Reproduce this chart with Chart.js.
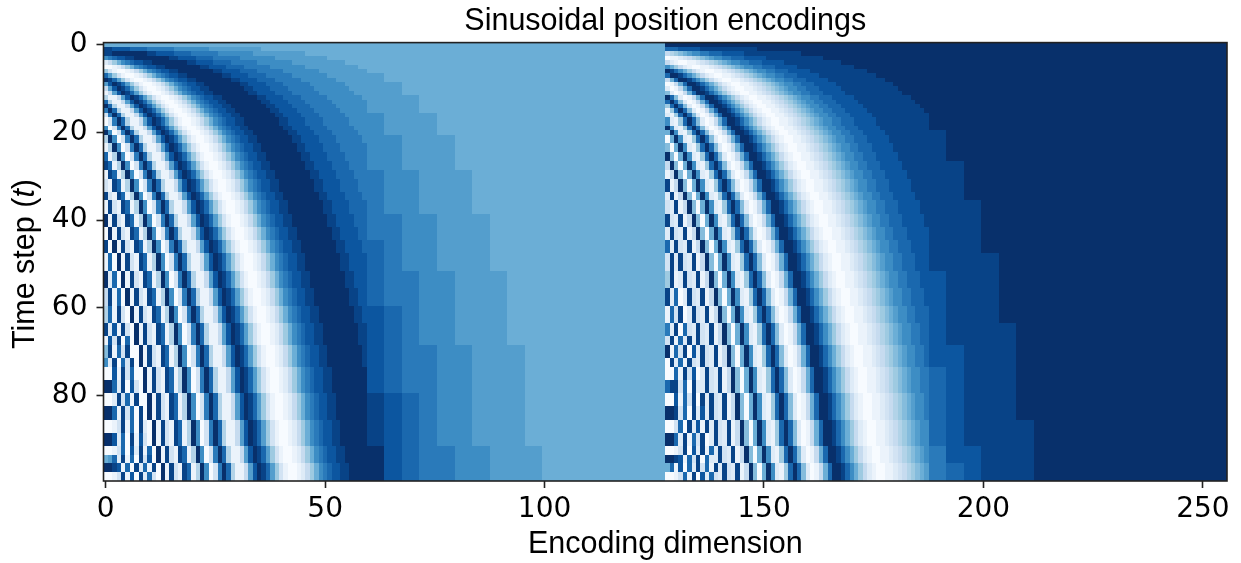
<!DOCTYPE html>
<html>
<head>
<meta charset="utf-8">
<style>
  html, body { margin: 0; padding: 0; background: #fff; }
  #wrap { width: 1241px; height: 563px; }
</style>
<script src="https://cdn.jsdelivr.net/npm/chart.js@4/dist/chart.umd.min.js"></script>
</head>
<body>
<div id="wrap"><canvas id="chart" width="1241" height="563"></canvas></div>
<script>
// shade for each cell, one hex digit: 0 = white, 8 = mid blue, f = navy
// first time step of each row of cells
const rowStarts = [0,1,2,3,4,5,6,7,8,9,10,11,12,13,14,15,16,17,19,20,21,23,25,27,29,31,34,36,39,42,45,48,52,56,60,64,67,69,72,74,77,80,83,86,89,92,94,96,98];
const rowEnd = 100;
// first dimension of each column of cells, same for both halves
const columnStarts = [0,1,2,3,4,5,6,7,8,9,10,11,12,13,14,15,16,17,18,19,20,21,22,23,24,25,26,27,28,29,30,31,32,33,34,35,36,37,38,39,40,41,42,43,44,45,46,47,48,49,50,51,52,53,54,55,56,57,58,59,60,64,68,72,76,80,84,88,92,96,100,108,116];
const halfWidth = 128;

const sineRows = [
  "8888888888 8888888888 8888888888 8888888888 8888888888 8888888888 8888888888888",
  "eeddddcc ccbbbbbbaa aaaaaa9999 9999999988 8888888888 8888888888 88 8888888888888",
  "eeffffff ffeeddddcc ccbbbbbbaa aaaaaa9999 9999999988 8888888888 88 8888888888888",
  "abc ddeeffffff ffeeddddcc ccbbbbbbaa aaaaaa9999 9999999988 8888888 8888888888888",
  "2468abc ddeeffffff ffeeddddcc ccbbbbbbaa aaaaaa9999 9999999988 888 8888888888888",
  "0012468abc ddeeffffff ffeeddddcc ccbbbbbbaa aaaaaa9999 9999999988 8888888888888",
  "631 0012468abc ddeeffffff ffeeddddcc ccbbbbbbaa aaaaaa9999 9999999 8888888888888",
  "c9631 0012468abc ddeeffffff ffeeddddcc ccbbbbbbaa aaaaaa9999 99999 9888888888888",
  "fec9631 0012468abc ddeeffffff ffeeddddcc ccbbbbbbaa aaaaaa9999 999 9888888888888",
  "9dfec9631 0012468abc ddeeffffff ffeeddddcc ccbbbbbbaa aaaaaa9999 9 9988888888888",
  "49dfec9631 0012468abc ddeeffffff ffeeddddcc ccbbbbbbaa aaaaaa9999 9988888888888",
  "1 49dfec9631 0012468abc ddeeffffff ffeeddddcc ccbbbbbbaa aaaaaa999 9988888888888",
  "511 49dfec9631 0012468abc ddeeffffff ffeeddddcc ccbbbbbbaa aaaaaa9 9998888888888",
  "c511 49dfec9631 0012468abc ddeeffffff ffeeddddcc ccbbbbbbaa aaaaaa 9998888888888",
  "fc511 49dfec9631 0012468abc ddeeffffff ffeeddddcc ccbbbbbbaa aaaaa 9998888888888",
  "bfc511 49dfec9631 0012468abc ddeeffffff ffeeddddcc ccbbbbbbaa aaaa 9998888888888",
  "3bfc511 49dfec9631 0012468abc ddeeffffff ffeeddddcc ccbbbbbbaa aaa a999888888888",
  "03bfc511 49dfec9631 0012468abc ddeeffffff ffeeddddcc ccbbbbbbaa aa a999888888888",
  "a03bfc511 49dfec9631 0012468abc ddeeffffff ffeeddddcc ccbbbbbbaa a a999888888888",
  "fa03bfc511 49dfec9631 0012468abc ddeeffffff ffeeddddcc ccbbbbbbaa a999888888888",
  "5 fa03bfc511 49dfec9631 0012468abc ddeeffffff ffeeddddcc ccbbbbbba aa99988888888",
  "15 fa03bfc511 49dfec9631 0012468abc ddeeffffff ffeeddddcc ccbbbbbb aa99988888888",
  "c15 fa03bfc511 49dfec9631 0012468abc ddeeffffff ffeeddddcc ccbbbbb aa99988888888",
  "ec15 fa03bfc511 49dfec9631 0012468abc ddeeffffff ffeeddddcc ccbbbb aa99988888888",
  "1ec15 fa03bfc511 49dfec9631 0012468abc ddeeffffff ffeeddddcc ccbbb baa9998888888",
  "31ec15 fa03bfc511 49dfec9631 0012468abc ddeeffffff ffeeddddcc ccbb baa9998888888",
  "e31ec15 fa03bfc511 49dfec9631 0012468abc ddeeffffff ffeeddddcc ccb baa9998888888",
  "1e31ec15 fa03bfc511 49dfec9631 0012468abc ddeeffffff ffeeddddcc cc baa9998888888",
  "f1e31ec15 fa03bfc511 49dfec9631 0012468abc ddeeffffff ffeeddddcc c bbaa999888888",
  "0f1e31ec15 fa03bfc511 49dfec9631 0012468abc ddeeffffff ffeeddddcc bbaa999888888",
  "e 0f1e31ec15 fa03bfc511 49dfec9631 0012468abc ddeeffffff ffeeddddc cbaa999888888",
  "1c 0f1e31ec15 fa03bfc511 49dfec9631 0012468abc ddeeffffff ffeedddd cbaa999888888",
  "f2c 0f1e31ec15 fa03bfc511 49dfec9631 0012468abc ddeeffffff ffeeddd cbbaa99988888",
  "4e1c 0f1e31ec15 fa03bfc511 49dfec9631 0012468abc ddeeffffff ffeedd cbbaa99988888",
  "5c1e3 0f1e31ec15 fa03bfc511 49dfec9631 0012468abc ddeeffffff ffeed dcbaa99988888",
  "e2d1e3 0f1e31ec15 fa03bfc511 49dfec9631 0012468abc ddeeffffff ffee dcbaa99988888",
  "1d3e0c 0f1e31ec15 fa03bfc511 49dfec9631 0012468abc ddeeffffff ffee dcbaa99988888",
  "7e1c3e0 0f1e31ec15 fa03bfc511 49dfec9631 0012468abc ddeeffffff ffe dcbbaa9998888",
  "a2e0c3e 0f1e31ec15 fa03bfc511 49dfec9631 0012468abc ddeeffffff ffe dcbbaa9998888",
  "00d1e3c0 0f1e31ec15 fa03bfc511 49dfec9631 0012468abc ddeeffffff ff dcbbaa9998888",
  "ffc2e0d3 0f1e31ec15 fa03bfc511 49dfec9631 0012468abc ddeeffffff ff dcbbaa9998888",
  "002e3c1e0 0f1e31ec15 fa03bfc511 49dfec9631 0012468abc ddeeffffff f edcbaa9998888",
  "ffc1e3c0e 0f1e31ec15 fa03bfc511 49dfec9631 0012468abc ddeeffffff f edcbaa9998888",
  "0013e1c0e2 0f1e31ec15 fa03bfc511 49dfec9631 0012468abc ddeeffffff edcbaa9998888",
  "ffd2c0e1d3 0f1e31ec15 fa03bfc511 49dfec9631 0012468abc ddeeffffff edcbaa9998888",
  "0013c0d2e1c 0f1e31ec15 fa03bfc511 49dfec9631 0012468abc ddeefffff fdcbbaa999888",
  "89c2e1c0e3d 0f1e31ec15 fa03bfc511 49dfec9631 0012468abc ddeefffff fdcbbaa999888",
  "ffed1c0e2c1e 0f1e31ec15 fa03bfc511 49dfec9631 0012468abc ddeeffff fdcbbaa999888",
  "0013e1d0e2c3 0f1e31ec15 fa03bfc511 49dfec9631 0012468abc ddeeffff fdcbbaa999888",
];

const cosineRows = [
  "ffffffffff ffffffffff ffffffffff ffffffffff ffffffffff ffffffffff fffffffffffff",
  "cccddddd eeeeeeeeee eeefffffff ffffffffff ffffffffff ffffffffff ff fffffffffffff",
  "456789aa bbcccddddd eeeeeeeeee eeefffffff ffffffffff ffffffffff ff fffffffffffff",
  "011 23456789aa bbcccddddd eeeeeeeeee eeefffffff ffffffffff fffffff fffffffffffff",
  "4210011 23456789aa bbcccddddd eeeeeeeeee eeefffffff ffffffffff fff fffffffffffff",
  "a864210011 23456789aa bbcccddddd eeeeeeeeee eeefffffff ffffffffff fffffffffffff",
  "fec a864210011 23456789aa bbcccddddd eeeeeeeeee eeefffffff fffffff fffffffffffff",
  "cffec a864210011 23456789aa bbcccddddd eeeeeeeeee eeefffffff fffff fffffffffffff",
  "48cffec a864210011 23456789aa bbcccddddd eeeeeeeeee eeefffffff fff fffffffffffff",
  "0148cffec a864210011 23456789aa bbcccddddd eeeeeeeeee eeefffffff f fffffffffffff",
  "20148cffec a864210011 23456789aa bbcccddddd eeeeeeeeee eeefffffff fffffffffffff",
  "7 20148cffec a864210011 23456789aa bbcccddddd eeeeeeeeee eeeffffff fffffffffffff",
  "fc7 20148cffec a864210011 23456789aa bbcccddddd eeeeeeeeee eeeffff fffffffffffff",
  "cfc7 20148cffec a864210011 23456789aa bbcccddddd eeeeeeeeee eeefff fffffffffffff",
  "6cfc7 20148cffec a864210011 23456789aa bbcccddddd eeeeeeeeee eeeff fffffffffffff",
  "16cfc7 20148cffec a864210011 23456789aa bbcccddddd eeeeeeeeee eeef fffffffffffff",
  "216cfc7 20148cffec a864210011 23456789aa bbcccddddd eeeeeeeeee eee fffffffffffff",
  "a216cfc7 20148cffec a864210011 23456789aa bbcccddddd eeeeeeeeee ee fffffffffffff",
  "fa216cfc7 20148cffec a864210011 23456789aa bbcccddddd eeeeeeeeee e fffffffffffff",
  "8fa216cfc7 20148cffec a864210011 23456789aa bbcccddddd eeeeeeeeee effffffffffff",
  "0 8fa216cfc7 20148cffec a864210011 23456789aa bbcccddddd eeeeeeeee effffffffffff",
  "70 8fa216cfc7 20148cffec a864210011 23456789aa bbcccddddd eeeeeeee effffffffffff",
  "f70 8fa216cfc7 20148cffec a864210011 23456789aa bbcccddddd eeeeeee effffffffffff",
  "4f70 8fa216cfc7 20148cffec a864210011 23456789aa bbcccddddd eeeeee eefffffffffff",
  "14f70 8fa216cfc7 20148cffec a864210011 23456789aa bbcccddddd eeeee eefffffffffff",
  "e14f70 8fa216cfc7 20148cffec a864210011 23456789aa bbcccddddd eeee eefffffffffff",
  "2e14f70 8fa216cfc7 20148cffec a864210011 23456789aa bbcccddddd eee eefffffffffff",
  "32e14f70 8fa216cfc7 20148cffec a864210011 23456789aa bbcccddddd ee eeeffffffffff",
  "e32e14f70 8fa216cfc7 20148cffec a864210011 23456789aa bbcccddddd e eeeffffffffff",
  "2e32e14f70 8fa216cfc7 20148cffec a864210011 23456789aa bbcccddddd eeeffffffffff",
  "c 2e32e14f70 8fa216cfc7 20148cffec a864210011 23456789aa bbcccdddd eeeffffffffff",
  "3e 2e32e14f70 8fa216cfc7 20148cffec a864210011 23456789aa bbcccddd eeeefffffffff",
  "6e1 2e32e14f70 8fa216cfc7 20148cffec a864210011 23456789aa bbcccdd deeefffffffff",
  "e2c0 2e32e14f70 8fa216cfc7 20148cffec a864210011 23456789aa bbcccd deeefffffffff",
  "1c3e0 2e32e14f70 8fa216cfc7 20148cffec a864210011 23456789aa bbccc deeefffffffff",
  "b2e0c3 2e32e14f70 8fa216cfc7 20148cffec a864210011 23456789aa bbcc deeeeffffffff",
  "3e1c2e 2e32e14f70 8fa216cfc7 20148cffec a864210011 23456789aa bbcc deeeeffffffff",
  "f1c3e0d 2e32e14f70 8fa216cfc7 20148cffec a864210011 23456789aa bbc ddeeeffffffff",
  "0e2c1e3 2e32e14f70 8fa216cfc7 20148cffec a864210011 23456789aa bbc ddeeeffffffff",
  "00c1e3d0 2e32e14f70 8fa216cfc7 20148cffec a864210011 23456789aa bb cdeeeffffffff",
  "cee3c0e2 2e32e14f70 8fa216cfc7 20148cffec a864210011 23456789aa bb cdeeeffffffff",
  "00d1c3e0e 2e32e14f70 8fa216cfc7 20148cffec a864210011 23456789aa b cdeeeffffffff",
  "ffe3c0e2d 2e32e14f70 8fa216cfc7 20148cffec a864210011 23456789aa b cdeeeffffffff",
  "003c0e2d1e 2e32e14f70 8fa216cfc7 20148cffec a864210011 23456789aa cdeeeefffffff",
  "ffc2e1c3e0 2e32e14f70 8fa216cfc7 20148cffec a864210011 23456789aa cdeeeefffffff",
  "0013e0d2e1c 2e32e14f70 8fa216cfc7 20148cffec a864210011 23456789a bddeeefffffff",
  "ffed1c3e0c2 2e32e14f70 8fa216cfc7 20148cffec a864210011 23456789a bddeeefffffff",
  "8c1d0c2e3c1e 2e32e14f70 8fa216cfc7 20148cffec a864210011 23456789 bcdeeefffffff",
  "0013c1e0d2c3 2e32e14f70 8fa216cfc7 20148cffec a864210011 23456789 bcdeeefffffff",
];

const xTickValues = [0, 50, 100, 150, 200, 250];
const yTickValues = [0, 20, 40, 60, 80];
const bluesStops = ["#f7fbff","#deebf7","#c6dbef","#9ecae1","#6baed6","#4292c6","#2171b5","#08519c","#08306b"];

function shadeColor(digit) {
  const d = parseInt(digit, 16);
  const f = d <= 8 ? d / 16 : 0.5 + (d - 8) / 14;
  const p = Math.min(f * 8, 7.999);
  const i = Math.floor(p);
  const rgb = (h) => [1, 3, 5].map((k) => parseInt(h.slice(k, k + 2), 16));
  const a = rgb(bluesStops[i]), b = rgb(bluesStops[i + 1]);
  const c = a.map((v, k) => Math.round(v + (b[k] - v) * (p - i)));
  return `rgb(${c[0]},${c[1]},${c[2]})`;
}

const cells = [];
function addCells(rows, offset) {
  rows.forEach((row, r) => {
    const digits = row.replace(/ /g, "");
    if (digits.length !== columnStarts.length) console.error("row", r, "has", digits.length, "cells");
    columnStarts.forEach((start, c) => {
      const end = c + 1 < columnStarts.length ? columnStarts[c + 1] : halfWidth;
      cells.push({
        x: offset + start - 0.5, x2: offset + end - 0.5,
        y: rowStarts[r] - 0.5, y2: (r + 1 < rowStarts.length ? rowStarts[r + 1] : rowEnd) - 0.5,
        color: shadeColor(digits[c] ?? "8"),
      });
    });
  });
}
addCells(sineRows, 0);
addCells(cosineRows, halfWidth);

const heatmap = {
  id: "heatmap",
  beforeDatasetsDraw(chart) {
    const { ctx, scales: { x, y } } = chart;
    for (const c of chart.data.datasets[0].data) {
      const x0 = Math.round(x.getPixelForValue(c.x)), x1 = Math.round(x.getPixelForValue(c.x2));
      const y0 = Math.round(y.getPixelForValue(c.y)), y1 = Math.round(y.getPixelForValue(c.y2));
      ctx.fillStyle = c.color;
      ctx.fillRect(x0, y0, x1 - x0, y1 - y0);
    }
  },
  afterDraw(chart) {
    const { ctx, chartArea: a } = chart;
    ctx.save();
    ctx.strokeStyle = "#222";
    ctx.lineWidth = 1.6;
    ctx.strokeRect(a.left, a.top, a.right - a.left, a.bottom - a.top);
    // y label has an italic t, so it is drawn in pieces
    ctx.translate(26, 264);
    ctx.rotate(-Math.PI / 2);
    ctx.fillStyle = "#000";
    ctx.textBaseline = "middle";
    const parts = [["Time step (", "30.5px 'Liberation Sans'"], ["t", "italic 30.5px 'Liberation Sans'"], [")", "30.5px 'Liberation Sans'"]];
    let w = 0;
    for (const [s, f] of parts) { ctx.font = f; w += ctx.measureText(s).width; }
    let pos = -w / 2;
    ctx.textAlign = "left";
    for (const [s, f] of parts) { ctx.font = f; ctx.fillText(s, pos, 0); pos += ctx.measureText(s).width; }
    ctx.restore();
  },
};

new Chart(document.getElementById("chart"), {
  type: "scatter",
  data: { datasets: [{ data: cells, pointRadius: 0, pointHoverRadius: 0 }] },
  plugins: [heatmap],
  options: {
    animation: false,
    responsive: false,
    parsing: false,
    layout: { padding: { top: 0, right: 14, bottom: 0, left: 0 } },
    plugins: {
      legend: { display: false },
      tooltip: { enabled: false },
      title: {
        display: true,
        fullSize: false,
        text: "Sinusoidal position encodings",
        color: "#000",
        font: { family: "'Liberation Sans'", size: 30.5, weight: "normal" },
        padding: { top: 3, bottom: 3 },
      },
    },
    scales: {
      x: {
        type: "linear", min: -0.5, max: 255.5,
        afterBuildTicks: (s) => { s.ticks = xTickValues.map((value) => ({ value })); },
        afterFit: (s) => { s.height = 82; },
        grid: { drawOnChartArea: false, tickLength: 7, tickWidth: 1.6, tickColor: "#222" },
        border: { display: false },
        ticks: { color: "#000", maxRotation: 0, padding: 5, font: { family: "'DejaVu Sans'", size: 28 } },
        title: { display: true, text: "Encoding dimension", color: "#000", padding: { top: 0, bottom: 0 }, font: { family: "'Liberation Sans'", size: 30.5 } },
      },
      y: {
        type: "linear", reverse: true, min: -0.5, max: 99.5,
        afterBuildTicks: (s) => { s.ticks = yTickValues.map((value) => ({ value })); },
        afterFit: (s) => { s.width = 103.5; },
        grid: { drawOnChartArea: false, tickLength: 7, tickWidth: 1.6, tickColor: "#222" },
        border: { display: false },
        ticks: { color: "#000", padding: 9, font: { family: "'DejaVu Sans'", size: 28 } },
      },
    },
  },
});
</script>
</body>
</html>
